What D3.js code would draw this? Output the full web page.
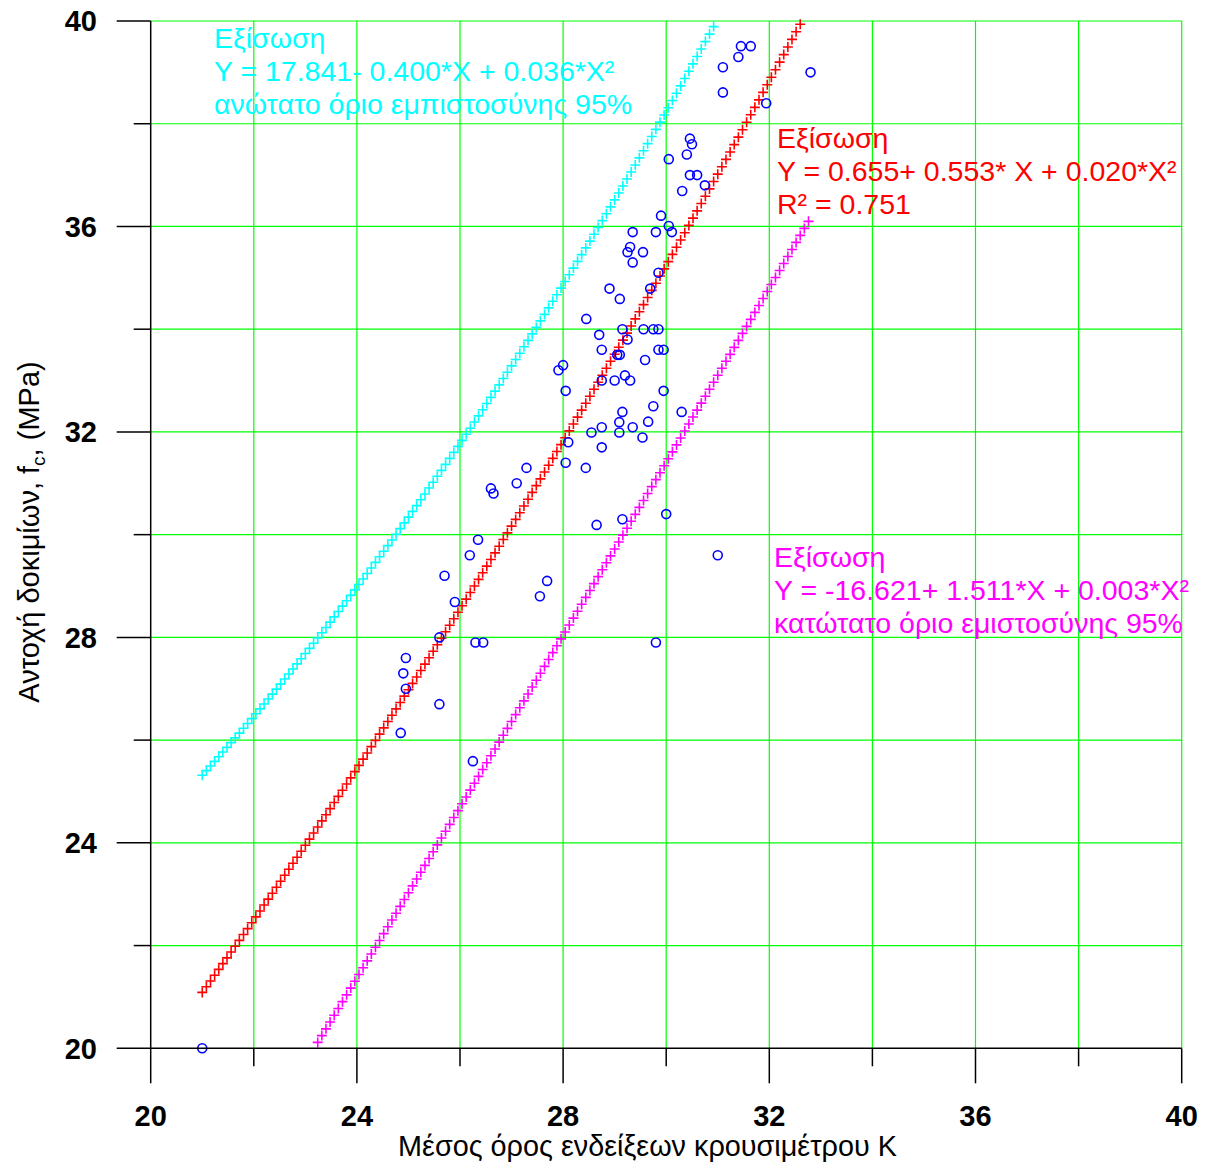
<!DOCTYPE html>
<html>
<head>
<meta charset="utf-8">
<script src="https://cdn.jsdelivr.net/npm/d3@7/dist/d3.min.js"></script>
<style>
  html, body { margin: 0; padding: 0; background: #fff; }
  svg { display: block; }
  text { font-family: "Liberation Sans", Arial, sans-serif; }
</style>
</head>
<body>
<script>
// Rebound hammer mean reading K against specimen compressive strength fc
const hammerK = [
  31.45, 31.64, 31.40, 31.10, 31.10, 31.94, 32.80, 30.46, 30.50, 30.40,
  30.05, 30.46, 30.60, 30.75, 30.31, 29.90, 30.05, 29.35, 29.80, 30.11,
  29.30, 29.25, 29.55, 29.35, 29.85, 28.90, 29.69, 29.10, 28.45, 29.15,
  29.56, 29.75, 29.85, 28.70, 29.25, 28.75, 29.85, 29.95, 29.05, 29.10,
  29.59, 28.00, 27.91, 29.20, 28.75, 29.00, 29.30, 28.05, 29.95, 29.75,
  29.15, 30.30, 29.65, 29.09, 28.75, 29.35, 28.55, 29.09, 29.54, 28.10,
  28.75, 28.05, 28.44, 27.29, 27.10, 26.60, 26.65, 29.15, 28.65, 30.00,
  31.00, 26.35, 26.19, 25.70, 27.69, 27.55, 25.90, 25.60, 26.30, 26.45,
  29.80, 24.95, 24.90, 24.95, 25.60, 24.85, 26.25, 21.00
];
const strengthFc = [
  39.51, 39.51, 39.30, 39.10, 38.61, 38.40, 39.00, 37.71, 37.60, 37.40,
  37.31, 37.00, 37.00, 36.80, 36.69, 36.21, 36.01, 35.89, 35.89, 35.89,
  35.60, 35.50, 35.50, 35.30, 35.10, 34.79, 34.79, 34.59, 34.20, 34.00,
  34.00, 34.00, 34.00, 33.89, 33.80, 33.60, 33.60, 33.60, 33.50, 33.50,
  33.40, 33.30, 33.20, 33.10, 33.00, 33.00, 33.00, 32.80, 32.80, 32.50,
  32.39, 32.39, 32.20, 32.19, 32.09, 32.09, 31.99, 31.99, 31.89, 31.80,
  31.70, 31.40, 31.30, 31.30, 31.00, 30.90, 30.80, 30.30, 30.19, 30.40,
  29.60, 29.90, 29.60, 29.20, 29.10, 28.80, 28.69, 28.00, 27.90, 27.90,
  27.90, 27.60, 27.30, 27.00, 26.70, 26.14, 25.59, 20.00
];

// Quadratic fits Y = a + b*X + c*X^2 (coefficients as printed on the chart)
const fitCoefMean  = [0.655, 0.553, 0.020];
const fitCoefUpper = [17.841, -0.400, 0.036];
const fitCoefLower = [-16.621, 1.511, 0.003];
const fitRangeK = [21.0, 32.8];
const fitStepK = 0.08;

// Axis ticks
const xTicks = [20, 22, 24, 26, 28, 30, 32, 34, 36, 38, 40];
const yTicks = [20, 22, 24, 26, 28, 30, 32, 34, 36, 38, 40];
const xTickLabels = ["20", "24", "28", "32", "36", "40"];
const yTickLabels = ["20", "24", "28", "32", "36", "40"];

// Equation annotations
const upperText = ["Εξίσωση", "Y = 17.841- 0.400*X + 0.036*X²", "ανώτατο όριο εμπιστοσύνης 95%"];
const meanText  = ["Εξίσωση", "Y = 0.655+ 0.553* X + 0.020*X²", "R² = 0.751"];
const lowerText = ["Εξίσωση", "Y = -16.621+ 1.511*X + 0.003*X²", "κατώτατο όριο εμιστοσύνης 95%"];

const xTitle = "Μέσος όρος ενδείξεων κρουσιμέτρου K";

const W = 1210, H = 1166;
const plotL = 150.7, plotR = 1181.7, plotT = 21, plotB = 1048.3;

const svg = d3.select("body").append("svg")
  .attr("width", W).attr("height", H)
  .attr("viewBox", `0 0 ${W} ${H}`);

const x = d3.scaleLinear().domain([20, 40]).range([plotL, plotR]);
const y = d3.scaleLinear().domain([20, 40]).range([plotB, plotT]);

svg.append("defs").append("clipPath").attr("id", "plotClip")
  .append("rect").attr("x", plotL - 6).attr("y", plotT - 6)
  .attr("width", plotR - plotL + 12).attr("height", plotB - plotT + 12);

// Grid lines
const grid = svg.append("g").attr("stroke", "#00ff00").attr("stroke-width", 1.2);
grid.selectAll("line.v").data(xTicks.filter(d => d > 20)).join("line")
  .attr("x1", d => x(d)).attr("x2", d => x(d))
  .attr("y1", plotT).attr("y2", plotB);
grid.selectAll("line.h").data(yTicks.filter(d => d > 20)).join("line")
  .attr("y1", d => y(d)).attr("y2", d => y(d))
  .attr("x1", plotL).attr("x2", plotR);

// Fitted curves drawn as "+" markers
const sampleK = d3.range(fitRangeK[0], fitRangeK[1] + 1e-9, fitStepK);
function curvePoints(coef) {
  return sampleK.map(k => [k, coef[0] + coef[1] * k + coef[2] * k * k])
    .filter(p => p[1] >= 20 && p[1] <= 40);
}
function plusMarks(coef, color) {
  const pts = curvePoints(coef);
  const g = svg.append("g").attr("clip-path", "url(#plotClip)")
    .attr("stroke", color).attr("stroke-width", 1.6).attr("fill", "none");
  g.selectAll("path").data(pts).join("path")
    .attr("d", "M-5,0H5M0,-5V5")
    .attr("transform", d => `translate(${x(d[0])},${y(d[1])})`);
}
plusMarks(fitCoefUpper, "#00ffff");
plusMarks(fitCoefMean, "#ff0000");
plusMarks(fitCoefLower, "#ff00ff");

// Measured specimens
svg.append("g").attr("fill", "none").attr("stroke", "#0000ff").attr("stroke-width", 1.6)
  .selectAll("circle").data(d3.range(hammerK.length)).join("circle")
  .attr("cx", i => x(hammerK[i])).attr("cy", i => y(strengthFc[i])).attr("r", 4.5);

// Axes
const axes = svg.append("g").attr("stroke", "#000").attr("stroke-width", 1.5);
axes.append("line").attr("x1", plotL).attr("x2", plotL).attr("y1", plotT).attr("y2", plotB);
axes.append("line").attr("x1", plotL).attr("x2", plotR).attr("y1", plotB).attr("y2", plotB);
axes.selectAll("line.xt").data(xTicks).join("line")
  .attr("x1", d => x(d)).attr("x2", d => x(d))
  .attr("y1", plotB).attr("y2", d => plotB + (xTickLabels.includes(String(d)) ? 35 : 18));
axes.selectAll("line.yt").data(yTicks).join("line")
  .attr("y1", d => y(d)).attr("y2", d => y(d))
  .attr("x1", plotL).attr("x2", d => plotL - (yTickLabels.includes(String(d)) ? 34 : 17));

svg.append("g").selectAll("text").data(xTickLabels).join("text")
  .attr("x", d => x(+d)).attr("y", 1126)
  .attr("text-anchor", "middle").attr("font-size", 29).attr("font-weight", "bold")
  .attr("fill", "#000").text(d => d);
svg.append("g").selectAll("text").data(yTickLabels).join("text")
  .attr("x", 97).attr("y", d => y(+d)).attr("dy", "0.36em")
  .attr("text-anchor", "end").attr("font-size", 29).attr("font-weight", "bold")
  .attr("fill", "#000").text(d => d);

// Axis titles
svg.append("text").attr("x", 647.5).attr("y", 1156).attr("text-anchor", "middle")
  .attr("font-size", 28.8).attr("fill", "#000").text(xTitle);

const yt = svg.append("text").attr("transform", "translate(39,532) rotate(-90)")
  .attr("text-anchor", "middle").attr("font-size", 29).attr("fill", "#000");
yt.append("tspan").text("Αντοχή δοκιμίων, f");
yt.append("tspan").attr("font-size", 19).attr("dy", 6).text("c");
yt.append("tspan").attr("dy", -6).text(", (MPa)");

// Equation annotations
function annotate(lines, px, py, color) {
  svg.append("g").selectAll("text").data(lines).join("text")
    .attr("x", px).attr("y", (d, i) => py + i * 33)
    .attr("font-size", 28.5).attr("fill", color).text(d => d);
}
annotate(upperText, 214, 48, "#00ffff");
annotate(meanText, 777, 148, "#ff0000");
annotate(lowerText, 774, 567, "#ff00ff");
</script>
</body>
</html>
